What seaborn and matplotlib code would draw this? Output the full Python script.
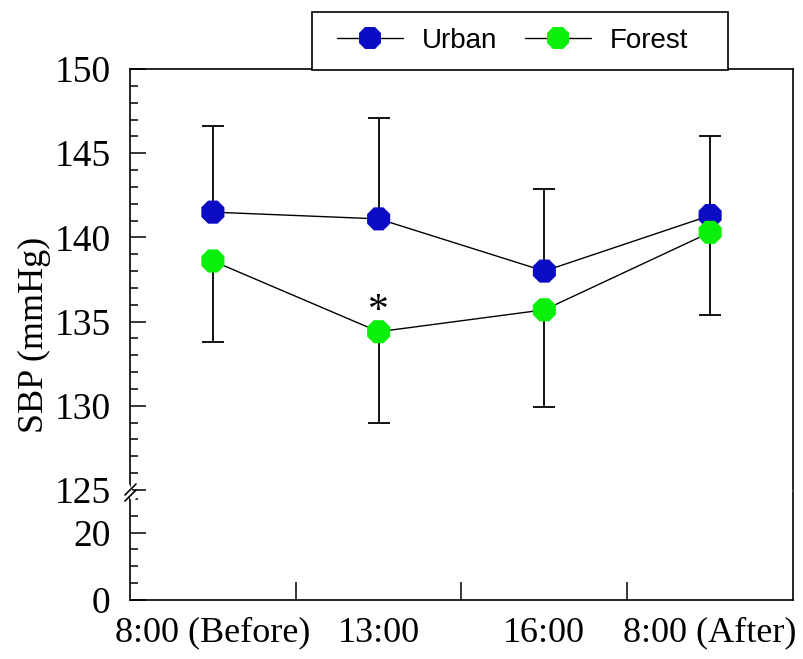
import numpy as np
import pandas as pd
import matplotlib
matplotlib.use("Agg")
import matplotlib.pyplot as plt
import seaborn as sns
from matplotlib.lines import Line2D
from matplotlib.patches import Rectangle
from matplotlib.ticker import FixedLocator

# ---- data ----
time_labels = ["8:00 (Before)", "13:00", "16:00", "8:00 (After)"]
urban_mean = [141.5, 141.1, 138.0, 141.3]
urban_sd = [5.1, 6.0, 4.9, 4.7]
forest_mean = [138.6, 134.4, 135.7, 140.3]
forest_sd = [4.8, 5.4, 5.8, 4.9]
sig_marks = ["", "*", "", ""]
upper_ticks = [125, 130, 135, 140, 145, 150]
lower_ticks = [0, 20]
lower_minor = [5, 10, 15, 25, 30]
groups = ["Urban", "Forest"]
colors = {"Urban": "#0C0CC4", "Forest": "#0AF00A"}

pos = np.arange(len(time_labels))
df = pd.DataFrame({
    "pos": np.concatenate([pos, pos]),
    "value": urban_mean + forest_mean,
    "group": ["Urban"] * len(pos) + ["Forest"] * len(pos),
})

sns.set_theme(style="ticks")
plt.rcParams["font.family"] = ["Liberation Serif", "DejaVu Serif"]
plt.rcParams["text.color"] = "black"
plt.rcParams["xtick.color"] = "black"
plt.rcParams["ytick.color"] = "black"

W, H = 804, 659
fig = plt.figure(figsize=(W / 100, H / 100), dpi=100)
L, R, T, S, B = 130, 793, 69, 491, 600
ax_top = fig.add_axes([L / W, 1 - (S - 1) / H, (R - L) / W, (S - 1 - T) / H])
ax_bot = fig.add_axes([L / W, 1 - B / H, (R - L) / W, (B - S - 1) / H], sharex=ax_top)

# error bars (one-sided)
zeros = np.zeros(len(pos))
ax_top.errorbar(pos, urban_mean, yerr=[zeros, urban_sd], fmt="none", ecolor="black",
                elinewidth=1.3, capsize=8, capthick=1.3, zorder=2)
ax_top.errorbar(pos, forest_mean, yerr=[forest_sd, zeros], fmt="none", ecolor="black",
                elinewidth=1.3, capsize=8, capthick=1.3, zorder=2)

# connecting lines
sns.lineplot(data=df, x="pos", y="value", hue="group", hue_order=groups,
             palette={"Urban": "black", "Forest": "black"}, linewidth=1.0,
             legend=False, ax=ax_top, zorder=2, sort=False)
# markers
sns.scatterplot(data=df, x="pos", y="value", hue="group", hue_order=groups,
                palette=colors, marker="8", s=18 ** 2, linewidth=0,
                legend=False, ax=ax_top, zorder=3)

for p, m, s, mark in zip(pos, forest_mean, forest_sd, sig_marks):
    if mark:
        ax_top.text(p, 135.6, mark, ha="center", va="center", fontsize=30, color="black")

# axes formatting
lw = 1.2
ax_top.set_xlim(-0.5, 3.5)
ax_top.set_ylim(125, 150)
ax_bot.set_ylim(0, 32)
for ax in (ax_top, ax_bot):
    for sp in ax.spines.values():
        sp.set_linewidth(lw)
        sp.set_color("black")
    ax.set_xlabel("")
    ax.set_ylabel("")
ax_top.spines["bottom"].set_visible(False)
ax_bot.spines["top"].set_visible(False)

ax_top.yaxis.set_major_locator(FixedLocator(upper_ticks))
ax_top.yaxis.set_minor_locator(FixedLocator(np.arange(125, 151, 1)))
ax_bot.yaxis.set_major_locator(FixedLocator(lower_ticks))
ax_bot.yaxis.set_minor_locator(FixedLocator(lower_minor))
for ax in (ax_top, ax_bot):
    ax.tick_params(axis="y", which="major", direction="in", length=11.5, width=1.1,
                   labelsize=27, pad=14, colors="black")
    ax.tick_params(axis="y", which="minor", direction="in", length=6, width=1.1)

ax_top.tick_params(axis="x", which="both", bottom=False, labelbottom=False)
ax_bot.set_xticks(pos)
ax_bot.set_xticklabels(time_labels)
ax_bot.xaxis.set_minor_locator(FixedLocator(pos[:-1] + 0.5))
ax_bot.tick_params(axis="x", which="major", length=0, labelsize=26, pad=12, colors="black")
ax_bot.tick_params(axis="x", which="minor", direction="in", length=13, width=1.1)

# y label
fig.text(34 / W, 1 - 335 / H, "SBP (mmHg)", rotation=90, ha="center", va="center",
         fontsize=26, color="black")

# break marks on left spine
def fx(x):
    return x / W

def fy(y):
    return 1 - y / H

fig.add_artist(Line2D([fx(127), fx(133)], [fy(486), fy(498)], color="white", lw=4))
for dy in (-3, 3):
    fig.add_artist(Line2D([fx(125), fx(136)], [fy(498 + dy), fy(487 + dy)],
                          color="black", lw=1.2))

# legend: frame drawn as a rectangle, entries via fig.legend
frame = Rectangle((fx(312), fy(70)), (728 - 312) / W, 58 / H, transform=fig.transFigure,
                  facecolor="white", edgecolor="black", linewidth=1.2, zorder=9)
fig.add_artist(frame)
handles = [Line2D([], [], color="black", lw=1.0, marker="8", markersize=17,
                  markerfacecolor=colors[g], markeredgewidth=0, label=g) for g in groups]
leg = fig.legend(handles=handles, loc="center left", bbox_to_anchor=(fx(337), fy(41)),
                 ncol=2, frameon=False, borderaxespad=0, borderpad=0,
                 handlelength=2.37, handletextpad=0.68, columnspacing=1.0,
                 labelcolor="black",
                 prop={"family": "Liberation Sans", "size": 20})
leg.set_zorder(10)

fig.savefig("out.png", dpi=100)
